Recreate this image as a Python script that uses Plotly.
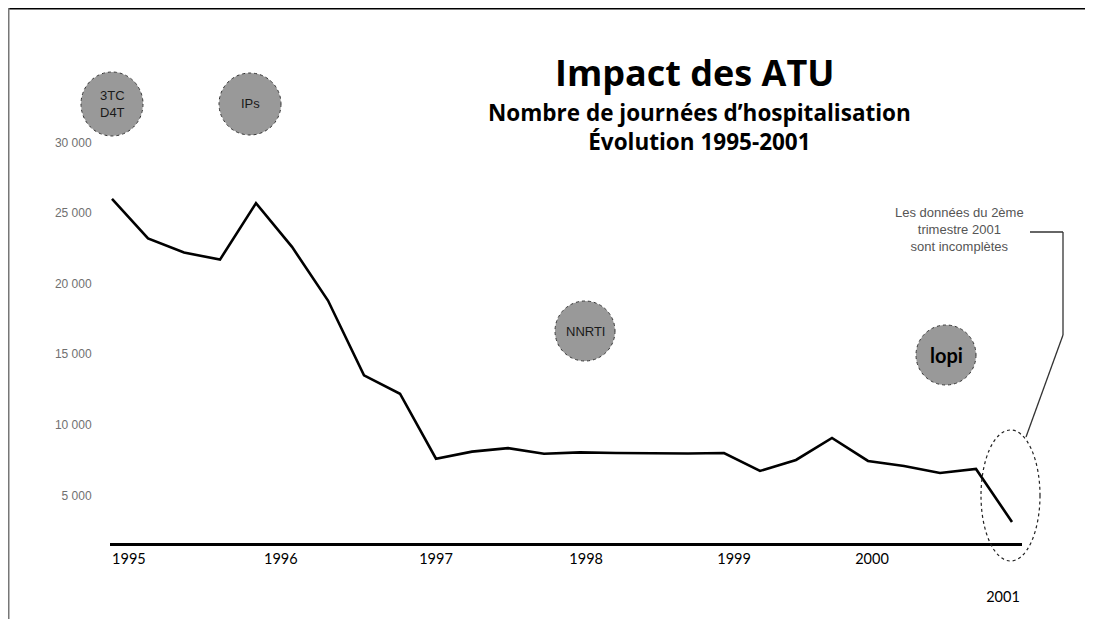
import plotly.graph_objects as go

# ---- data (quarterly, 1995 T1 -> 2001 T2) ----
periods = ["1995 T1", "1995 T2", "1995 T3", "1995 T4",
           "1996 T1", "1996 T2", "1996 T3", "1996 T4",
           "1997 T1", "1997 T2", "1997 T3", "1997 T4",
           "1998 T1", "1998 T2", "1998 T3", "1998 T4",
           "1999 T1", "1999 T2", "1999 T3", "1999 T4",
           "2000 T1", "2000 T2", "2000 T3", "2000 T4",
           "2001 T1", "2001 T2"]
journees = [26000, 23200, 22200, 21700, 25700, 22600, 18800, 13500,
            12200, 7600, 8100, 8350, 7950, 8050, 8000, 7980,
            7970, 8000, 6730, 7510, 9070, 7440, 7080, 6590,
            6870, 3120]
year_labels = ["1995", "1996", "1997", "1998", "1999", "2000", "2001"]
y_ticks = [5000, 10000, 15000, 20000, 25000, 30000]
y_tick_text = ["5 000", "10 000", "15 000", "20 000", "25 000", "30 000"]
atu_labels = ["3TC<br>D4T", "IPs", "NNRTI", "lopi"]

# ---- layout constants (page is offset by the 8px body margin) ----
OFF = 8
W, H = 1093 - OFF, 619 - OFF
L, R, T, B = 102, 71, 112, 76
PW, PH = W - L - R, H - T - B
PLOT_X0, PLOT_Y1 = L + OFF, T + OFF + PH   # screen coords of plot left / bottom
year_tick_pos = [0.47, 4.69, 9.0, 13.17, 17.28, 21.11, 24.75]


def px(x):  # screen x -> paper
    return (x - PLOT_X0) / PW


def py(y):  # screen y -> paper
    return (PLOT_Y1 - y) / PH


xs = list(range(len(periods)))

fig = go.Figure()
fig.add_trace(go.Scatter(
    x=xs, y=journees, mode="lines", text=periods,
    line=dict(color="black", width=2.6),
    hovertemplate="%{text}: %{y}<extra></extra>", showlegend=False))

ticktext = [t if t != "2001" else "<br><br>2001" for t in year_labels]

fig.update_layout(
    width=W, height=H,
    margin=dict(l=L, r=R, t=T, b=B, pad=0),
    paper_bgcolor="white", plot_bgcolor="white",
    xaxis=dict(range=[-2 / 36, 910 / 36], showgrid=False, zeroline=False,
               showline=True, linecolor="black", linewidth=3,
               tickmode="array", tickvals=year_tick_pos, ticktext=ticktext,
               ticks="outside", ticklen=1, tickcolor="rgba(0,0,0,0)",
               tickfont=dict(family="Lato", size=14.5, color="black")),
    yaxis=dict(range=[1629, 31586], showgrid=False, zeroline=False,
               showline=False, tickmode="array", tickvals=y_ticks,
               ticktext=y_tick_text, ticks="outside", ticklen=15,
               tickcolor="rgba(0,0,0,0)",
               tickfont=dict(family="Liberation Sans", size=12, color="#707070")),
)

shapes = []
# frame (top black rule, left grey rule)
shapes.append(dict(type="line", xref="paper", yref="paper",
                   x0=px(OFF), x1=px(1093), y0=py(OFF), y1=py(OFF),
                   line=dict(color="black", width=3)))
shapes.append(dict(type="line", xref="paper", yref="paper",
                   x0=px(OFF), x1=px(OFF), y0=py(OFF), y1=py(619),
                   line=dict(color="#777777", width=3)))

# ATU circles (screen centres, radii)
circles = [(112, 104, 31, 32), (250, 104, 31, 31), (585, 331, 30, 30), (946, 355, 30, 30)]
for (cx, cy, rx, ry), lab in zip(circles, atu_labels):
    shapes.append(dict(type="circle", xref="paper", yref="paper",
                       x0=px(cx - rx), x1=px(cx + rx), y0=py(cy + ry), y1=py(cy - ry),
                       fillcolor="#999999",
                       line=dict(color="#333333", width=1, dash="dot"),
                       layer="below"))
    if lab == "lopi":
        font = dict(family="Lato", size=20, color="black")
        txt = "<b>" + lab + "</b>"
    else:
        font = dict(family="Liberation Sans", size=13, color="#1a1a1a")
        txt = lab
    fig.add_annotation(xref="paper", yref="paper", x=px(cx), y=py(cy),
                       xanchor="center", yanchor="middle",
                       text=txt, showarrow=False, font=font)

# dashed ellipse around 2001
shapes.append(dict(type="circle", xref="paper", yref="paper",
                   x0=px(981), x1=px(1040), y0=py(561), y1=py(430),
                   line=dict(color="#222222", width=1.2, dash="dot")))
# connector from note to ellipse
conn = [(1030, 232), (1063, 232), (1063, 335), (1026, 437)]
for (x0, y0), (x1, y1) in zip(conn[:-1], conn[1:]):
    shapes.append(dict(type="line", xref="paper", yref="paper",
                       x0=px(x0), x1=px(x1), y0=py(y0), y1=py(y1),
                       line=dict(color="#333333", width=1.3)))
fig.update_layout(shapes=shapes)

# titles
fig.add_annotation(xref="paper", yref="paper", x=px(694), y=py(73),
                   xanchor="center", yanchor="middle",
                   text="<b>Impact des ATU</b>", showarrow=False,
                   font=dict(family="Open Sans", size=36, color="black"))
fig.add_annotation(xref="paper", yref="paper", x=px(699), y=py(127),
                   xanchor="center", yanchor="middle",
                   text="<b>Nombre de journées d’hospitalisation<br>Évolution 1995-2001</b>",
                   showarrow=False,
                   font=dict(family="Open Sans", size=22.5, color="black"))
# note
fig.add_annotation(xref="paper", yref="paper", x=px(959), y=py(229),
                   xanchor="center", yanchor="middle",
                   text="Les données du 2ème<br>trimestre 2001<br>sont incomplètes",
                   showarrow=False,
                   font=dict(family="Liberation Sans", size=13, color="#555555"))

fig.write_html("out.html")
